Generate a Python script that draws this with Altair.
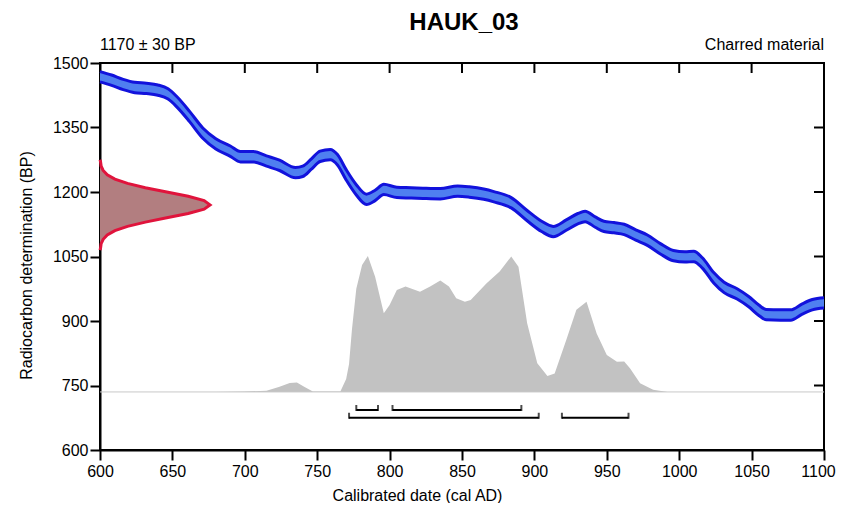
import altair as alt
import pandas as pd

FONT = "Liberation Sans"

TITLE = "HAUK_03"
SUB_LEFT = "1170 ± 30 BP"
SUB_RIGHT = "Charred material"
X_TITLE = "Calibrated date (cal AD)"
Y_TITLE = "Radiocarbon determination (BP)"

X_TICKS = [600, 650, 700, 750, 800, 850, 900, 950, 1000, 1050, 1100]
Y_TICKS = [600, 750, 900, 1050, 1200, 1350, 1500]
TOP_TICKS = [650, 700, 750, 800, 850, 900, 950, 1000, 1050]
RIGHT_TICKS = [750, 900, 1050, 1200, 1350]

# calibration curve (centre, BP) and its 1-sigma half width
curve_year = [600, 608, 616, 624, 632, 640, 647, 653, 662, 671, 680, 690, 697, 706,
              715, 724, 735, 740, 746, 752, 759, 764, 770, 777, 784, 790, 796, 805,
              815, 823, 835, 847, 855, 865, 872, 884, 895, 905, 913, 922, 930, 935,
              942, 948, 955, 962, 970, 978, 987, 996, 1004, 1010, 1016, 1024, 1031,
              1040, 1048, 1055, 1060, 1070, 1077, 1085, 1092, 1100]
curve_bp = [1468, 1460, 1450, 1443, 1441, 1437, 1428, 1410, 1375, 1337, 1312, 1295, 1282, 1282,
            1272, 1262, 1245, 1248, 1265, 1283, 1287, 1275, 1240, 1205, 1183, 1192, 1206, 1199,
            1198, 1197, 1196, 1202, 1200, 1195, 1189, 1175, 1145, 1120, 1108, 1123, 1138, 1143,
            1130, 1120, 1117, 1113, 1100, 1088, 1068, 1052, 1049, 1050, 1035, 1000, 978,
            963, 945, 925, 915, 914, 914, 928, 938, 942]
CURVE_ERR = 12

# radiocarbon determination distribution (BP, relative width in years)
red_bp = [1275, 1270, 1260, 1250, 1240, 1230, 1220, 1210, 1200, 1190, 1180, 1170,
          1160, 1150, 1140, 1130, 1120, 1110, 1100, 1090, 1080, 1070, 1065]
red_width = [0, 0.4, 0.8, 2.2, 5.0, 10.3, 19.0, 31.3, 46.1, 60.9, 71.9, 76,
             71.9, 60.9, 46.1, 31.3, 19.0, 10.3, 5.0, 2.2, 0.8, 0.4, 0]
RED_BASE = 600

# calibrated date distribution (year, top in BP units above baseline)
grey_year = [600, 680, 700, 715, 724, 731, 736, 741, 747, 766, 770, 772, 774, 777,
             781, 785, 790, 796, 800, 805, 811, 821, 828, 835, 841, 846, 852, 856,
             867, 876, 884, 889, 895, 902, 909, 914, 922, 929, 936, 943, 950, 957,
             962, 966, 973, 982, 992, 1100]
grey_top = [735, 735, 736, 738, 747, 756, 757, 747, 736, 736, 765, 800, 880, 975,
            1030, 1051, 1003, 918, 937, 972, 980, 968, 980, 994, 980, 953, 945, 949,
            988, 1015, 1050, 1026, 895, 802, 772, 778, 856, 926, 945, 871, 821, 805,
            806, 790, 755, 740, 735, 735]
GREY_BASE = 735

# probability ranges (68.2% upper row, 95.4% lower row)
br_start = [777, 802, 772, 919]
br_end = [792, 891, 903, 965]
br_level = [693, 693, 675, 675]

W, H = 724, 387

xs = alt.Scale(domain=[600, 1100], nice=False, zero=False)
ys = alt.Scale(domain=[600, 1500], nice=False, zero=False)

common_axis = dict(tickSize=10, tickWidth=2, tickColor="black", domainColor="black",
                   domainWidth=2, labelFontSize=16, labelFont=FONT, labelColor="black",
                   grid=False, titleFont=FONT, titleFontSize=16, titleFontWeight="normal",
                   titleColor="black", format="d", labelFlush=False, labelOverlap=False)
xaxis = alt.Axis(values=X_TICKS, title=X_TITLE, labelPadding=3, titleX=317, titleY=45,
                 titleBaseline="middle", titleAlign="center",
                 labelOffset={"condition": {"test": "datum.value == 1100", "value": -6}, "value": 0},
                 **common_axis)
yaxis = alt.Axis(values=Y_TICKS, title=Y_TITLE, labelPadding=2, titleX=-74, titleY=202,
                 titleAngle=270, titleBaseline="middle", titleAlign="center", **common_axis)

curve_df = pd.DataFrame({"year": curve_year, "bp": curve_bp})
curve_df["hi"] = curve_df["bp"] + CURVE_ERR
curve_df["lo"] = curve_df["bp"] - CURVE_ERR

red_df = pd.DataFrame({"bp": red_bp, "w": red_width})
red_df["xr"] = RED_BASE + red_df["w"]

grey_df = pd.DataFrame({"year": grey_year, "top": grey_top})
br_df = pd.DataFrame({"start": br_start, "end": br_end, "level": br_level})
ends_df = pd.DataFrame({"year": br_start + br_end, "level": br_level + br_level})
one = pd.DataFrame({"a": [0]})

grey = alt.Chart(grey_df).mark_area(color="#c2c2c2", opacity=1).encode(
    x=alt.X("year:Q", scale=xs, axis=xaxis),
    y=alt.Y("top:Q", scale=ys, axis=yaxis),
    y2=alt.datum(GREY_BASE),
)
baseline = alt.Chart(one).mark_rule(color="#c8c8c8", strokeWidth=1).encode(
    x=alt.datum(600), x2=alt.datum(1100), y=alt.datum(GREY_BASE)
)

red_area = alt.Chart(red_df).mark_area(orient="horizontal", color="#b27e80", opacity=1).encode(
    y=alt.Y("bp:Q", scale=ys, axis=yaxis),
    x=alt.X("xr:Q", scale=xs, axis=xaxis),
    x2=alt.datum(RED_BASE),
)
red_line = alt.Chart(red_df).mark_line(color="#e0143c", strokeWidth=3).encode(
    y=alt.Y("bp:Q", scale=ys, axis=yaxis),
    x=alt.X("xr:Q", scale=xs, axis=xaxis),
    order="bp:Q",
)

band = alt.Chart(curve_df).mark_area(color="#4f7ff0", opacity=1, interpolate="monotone").encode(
    x=alt.X("year:Q", scale=xs, axis=xaxis),
    y=alt.Y("hi:Q", scale=ys, axis=yaxis),
    y2="lo:Q",
)
edge_hi = alt.Chart(curve_df).mark_line(color="#1212dc", strokeWidth=3, interpolate="monotone").encode(
    x=alt.X("year:Q", scale=xs, axis=xaxis),
    y=alt.Y("hi:Q", scale=ys, axis=yaxis),
)
edge_lo = alt.Chart(curve_df).mark_line(color="#1212dc", strokeWidth=3, interpolate="monotone").encode(
    x=alt.X("year:Q", scale=xs, axis=xaxis),
    y=alt.Y("lo:Q", scale=ys, axis=yaxis),
)

brackets = alt.Chart(br_df).mark_rule(color="black", strokeWidth=2).encode(
    x=alt.X("start:Q", scale=xs, axis=xaxis),
    x2="end:Q",
    y=alt.Y("level:Q", scale=ys, axis=yaxis),
)
bracket_ends = alt.Chart(ends_df).mark_tick(
    orient="vertical", color="black", size=6, thickness=2, yOffset=-2
).encode(
    x=alt.X("year:Q", scale=xs, axis=xaxis),
    y=alt.Y("level:Q", scale=ys, axis=yaxis),
)

top_ticks = alt.Chart(pd.DataFrame({"t": TOP_TICKS})).mark_rule(color="black", strokeWidth=2).encode(
    x=alt.X("t:Q", scale=xs, axis=xaxis), y=alt.value(0), y2=alt.value(10)
)
right_ticks = alt.Chart(pd.DataFrame({"t": RIGHT_TICKS})).mark_rule(color="black", strokeWidth=2).encode(
    y=alt.Y("t:Q", scale=ys, axis=yaxis), x=alt.value(W), x2=alt.value(W - 10)
)

title = alt.Chart(one).mark_text(font=FONT, fontSize=24, fontWeight="bold", align="center",
                                 baseline="alphabetic", color="black").encode(
    x=alt.value(W / 2 + 2), y=alt.value(-33), text=alt.value(TITLE))
sub_l = alt.Chart(one).mark_text(font=FONT, fontSize=16, align="left",
                                 baseline="middle", color="black").encode(
    x=alt.value(0), y=alt.value(-18), text=alt.value(SUB_LEFT))
sub_r = alt.Chart(one).mark_text(font=FONT, fontSize=16, align="right",
                                 baseline="middle", color="black").encode(
    x=alt.value(W), y=alt.value(-18), text=alt.value(SUB_RIGHT))

chart = alt.layer(
    grey, baseline, red_area, red_line, band, edge_hi, edge_lo,
    brackets, bracket_ends, top_ticks, right_ticks, title, sub_l, sub_r
).properties(
    width=W, height=H,
    autosize=alt.AutoSizeParams(type="none"),
    padding={"left": 92, "top": 55, "right": 12, "bottom": 53},
    background="white",
).configure_view(stroke="black", strokeWidth=2)

chart.save("out.html", embed_options={"renderer": "svg", "actions": False})
